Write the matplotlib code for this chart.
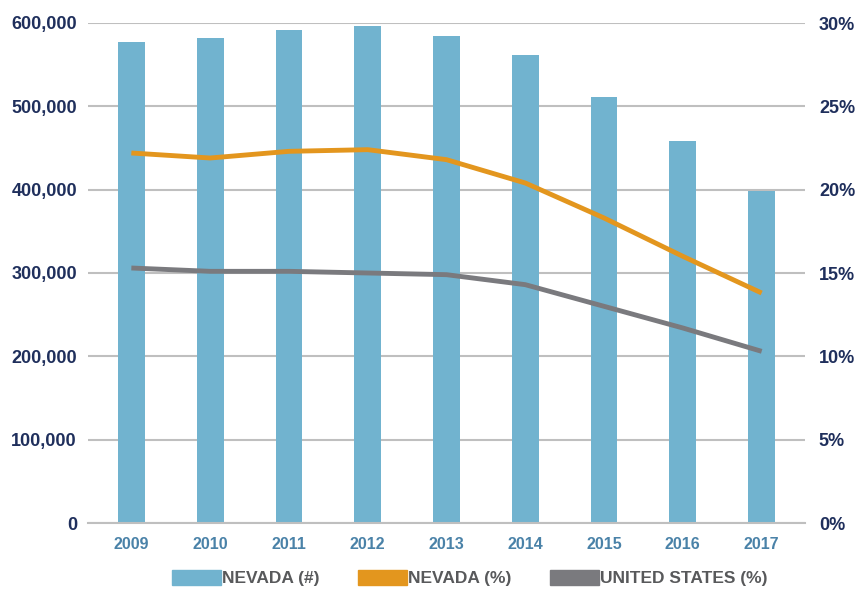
import matplotlib.pyplot as plt
from matplotlib.ticker import FuncFormatter, MultipleLocator
from matplotlib.patches import Patch
import numpy as np

years = ["2009", "2010", "2011", "2012", "2013", "2014", "2015", "2016", "2017"]
nevada_count = [577000, 582000, 591500, 596500, 584500, 561500, 511000, 458500, 398500]
nevada_pct = [22.2, 21.9, 22.3, 22.4, 21.8, 20.4, 18.3, 16.0, 13.8]
us_pct = [15.3, 15.1, 15.1, 15.0, 14.9, 14.3, 13.0, 11.7, 10.3]

bar_color = "#71B3CF"
orange = "#E3961E"
grey = "#7A7A7E"
navy = "#1F2F5C"
xlab_color = "#4A82A8"

plt.rcParams['font.family'] = ['Liberation Sans Narrow', 'Liberation Sans', 'DejaVu Sans']

fig = plt.figure(figsize=(8.57, 5.92), dpi=100)
ax = fig.add_axes([88 / 857, 1 - 523 / 592, (805 - 88) / 857, 500 / 592])
ax2 = ax.twinx()

x = np.arange(len(years))
ax.bar(x, nevada_count, width=0.34, color=bar_color, zorder=2)
ax.set_ylim(0, 600000)
ax.set_xlim(-0.55, len(years) - 0.45)
ax.yaxis.set_major_locator(MultipleLocator(100000))
ax.yaxis.set_major_formatter(FuncFormatter(lambda v, p: f"{int(v):,}"))
ax.grid(axis="y", color="#BFBFBF", lw=1.5, zorder=0)
ax.set_axisbelow(True)
ax.set_xticks(x)
ax.set_xticklabels(years)

ax2.plot(x, nevada_pct, color=orange, lw=3.5, solid_capstyle="butt")
ax2.plot(x, us_pct, color=grey, lw=3.5, solid_capstyle="butt")
ax2.set_ylim(0, 30)
ax2.yaxis.set_major_locator(MultipleLocator(5))
ax2.yaxis.set_major_formatter(FuncFormatter(lambda v, p: f"{int(v)}%"))

for a in (ax, ax2):
    for s in a.spines.values():
        s.set_visible(False)
    a.tick_params(length=0)

ax.spines["bottom"].set_visible(True)
ax.spines["bottom"].set_color("#BFBFBF")
ax.spines["bottom"].set_linewidth(1.5)

ax.tick_params(axis="y", labelsize=13, labelcolor=navy, pad=8)
ax2.tick_params(axis="y", labelsize=13, labelcolor=navy, pad=10)
for lbl in ax.get_yticklabels() + ax2.get_yticklabels():
    lbl.set_fontweight("bold")
ax.tick_params(axis="x", labelsize=11.5, labelcolor=xlab_color, pad=10)
for lbl in ax.get_xticklabels():
    lbl.set_fontweight("bold")

handles = [Patch(color=bar_color), Patch(color=orange), Patch(color=grey)]
labels = ["NEVADA (#)", "NEVADA (%)", "UNITED STATES (%)"]
leg = fig.legend(handles, labels, loc="center", bbox_to_anchor=(470 / 857, 1 - 578 / 592),
                 ncol=3, frameon=False, handlelength=2.8, handleheight=1.0,
                 handletextpad=0.1, columnspacing=2.2,
                 prop={"size": 12.5, "weight": "bold"})
for t in leg.get_texts():
    t.set_color("#58595B")

fig.savefig("out.png", dpi=100)
